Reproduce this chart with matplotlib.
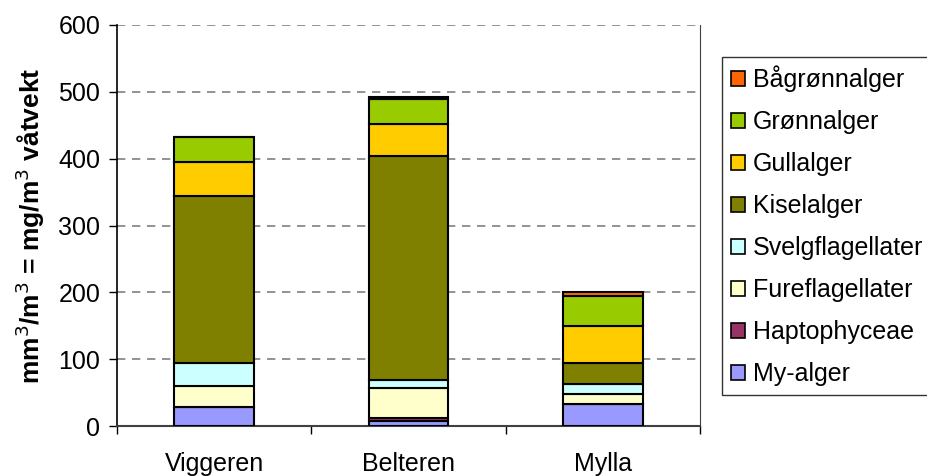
import matplotlib.pyplot as plt
import numpy as np
from matplotlib.patches import Patch

plt.rcParams['font.family'] = ['Liberation Sans', 'DejaVu Sans']

lakes = ['Viggeren', 'Belteren', 'Mylla']
groups = ['My-alger', 'Haptophyceae', 'Fureflagellater', 'Svelgflagellater',
          'Kiselalger', 'Gullalger', 'Grønnalger', 'Bågrønnalger']
my_alger = [28, 8, 33]
haptophyceae = [0, 4, 0]
fureflagellater = [32, 45, 15]
svelgflagellater = [34, 12, 15]
kiselalger = [250, 335, 31]
gullalger = [51, 48, 56]
gronnalger = [37, 38, 45]
bagronnalger = [0, 3, 6]
colors = ['#9999FF', '#993366', '#FFFFCC', '#CCFFFF',
          '#808000', '#FFCC00', '#99CC00', '#FF6600']

series = [my_alger, haptophyceae, fureflagellater, svelgflagellater,
          kiselalger, gullalger, gronnalger, bagronnalger]

fig = plt.figure(figsize=(9.27, 4.76), dpi=100)
ax = fig.add_axes([117 / 927, 50 / 476, 583 / 927, 401 / 476])

x = np.arange(len(lakes))
bottom = np.zeros(len(lakes))
for vals, col in zip(series, colors):
    vals = np.array(vals, dtype=float)
    ax.bar(x, vals, 0.41, bottom=bottom, color=col, edgecolor='black',
           linewidth=1.5, zorder=3)
    bottom += vals

ax.set_xlim(-0.5, 2.5)
ax.set_ylim(0, 600)
ax.set_yticks(range(0, 601, 100))
ax.set_xticks(x)
ax.set_xticklabels(lakes)
ax.set_xticks([-0.5, 0.5, 1.5, 2.5], minor=True)
ax.tick_params(axis='x', which='major', length=0, pad=19, labelsize=18)
ax.tick_params(axis='x', which='minor', length=6, width=1, direction='out')
ax.tick_params(axis='y', length=6, width=1, labelsize=18, pad=6)
ax.yaxis.grid(True, linestyle=(0, (5, 4)), color='#808080', linewidth=1.2, zorder=0)
ax.spines['top'].set_visible(False)
ax.spines['right'].set_color('#404040')
ax.spines['left'].set_linewidth(1.2)
ax.spines['bottom'].set_linewidth(1.5)
ax.spines['bottom'].set_color('#404040')
ax.set_ylabel('mm$^3$/m$^3$ = mg/m$^3$ våtvekt', fontsize=19, fontweight='bold', labelpad=8)

handles = [Patch(facecolor=c, edgecolor='black', linewidth=1.2, label=g)
           for g, c in zip(groups, colors)][::-1]
leg = fig.legend(handles=handles, loc='upper left', bbox_to_anchor=(722 / 927, 1 - 57 / 476),
                 fontsize=18, frameon=True, fancybox=False, edgecolor='black',
                 handlelength=0.55, handleheight=0.55, handletextpad=0.35,
                 labelspacing=0.72, borderpad=0.35, borderaxespad=0)
leg.get_frame().set_linewidth(1)

fig.savefig('out.png', dpi=100)
